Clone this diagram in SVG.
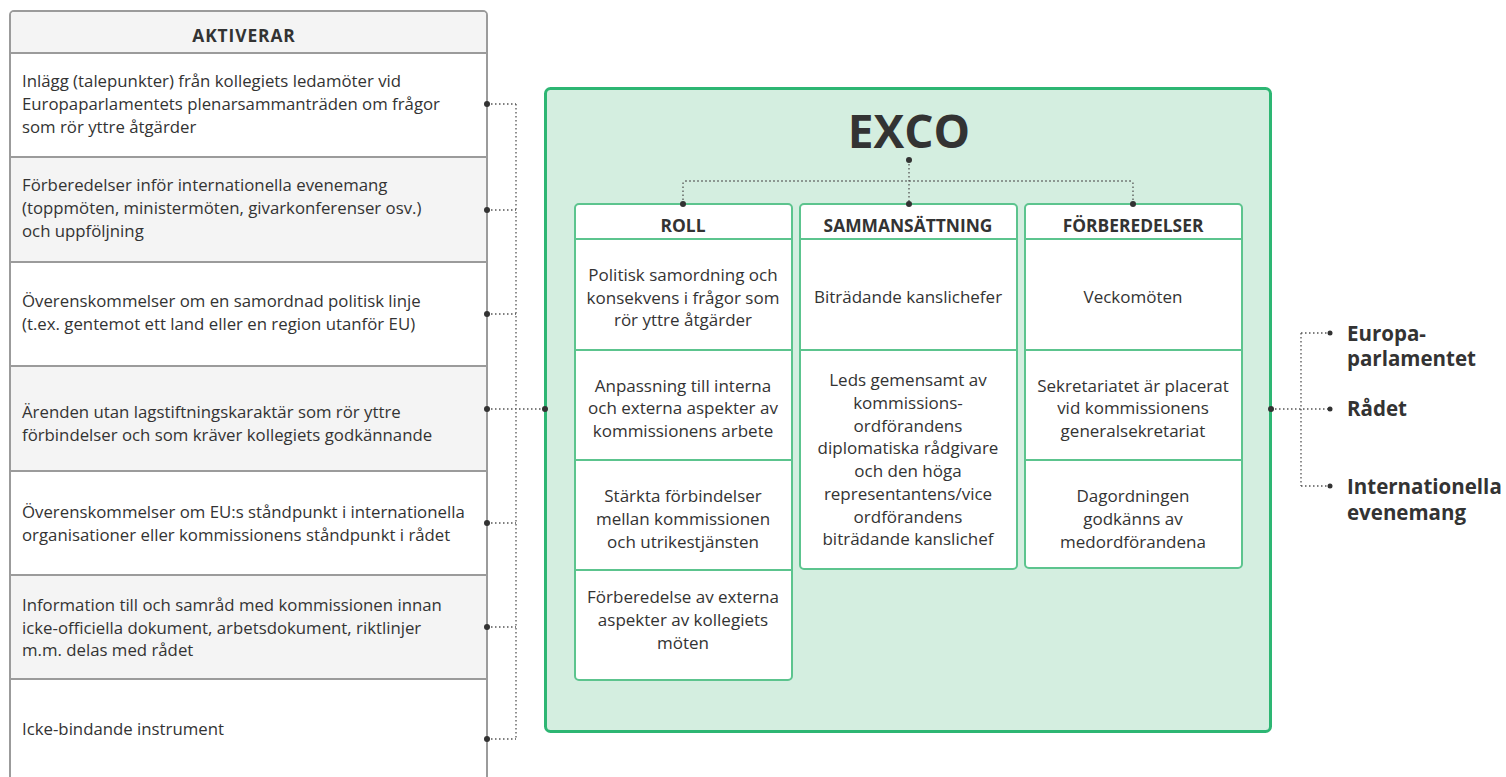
<svg xmlns="http://www.w3.org/2000/svg" width="1506" height="777" viewBox="0 0 1506 777">
<style>
.b{font-family:"Open Sans","Noto Sans",sans-serif;font-size:16.8px;fill:#333}
.c{font-family:"Open Sans","Noto Sans",sans-serif;font-size:17px;fill:#333;text-anchor:middle}
.h{font-family:"Open Sans","Noto Sans",sans-serif;font-size:17.4px;font-weight:bold;fill:#333;text-anchor:middle}
.r{font-family:"Open Sans","Noto Sans",sans-serif;font-size:20.5px;font-weight:bold;fill:#333}
.col{fill:#fff;stroke:#5cc48e;stroke-width:2}
.div{stroke:#5cc48e;stroke-width:2}
.dot{fill:none;stroke:#555;stroke-width:1.3;stroke-dasharray:1.5 2.5}
.pt{fill:#333}
</style>
<g id="aktiverar">
<rect x="10" y="11" width="477" height="790" rx="4" fill="#fff" stroke="#9b9b9b" stroke-width="2"/>
<path d="M11,53 V15 Q11,12 14,12 H483 Q486,12 486,15 V53 Z" fill="#f4f4f4"/>
<rect x="11" y="157" width="475" height="105" fill="#f4f4f4"/>
<rect x="11" y="366" width="475" height="105" fill="#f4f4f4"/>
<rect x="11" y="575" width="475" height="104" fill="#f4f4f4"/>
<g stroke="#9b9b9b" stroke-width="2">
<line x1="10" y1="53" x2="487" y2="53"/>
<line x1="10" y1="157" x2="487" y2="157"/>
<line x1="10" y1="262" x2="487" y2="262"/>
<line x1="10" y1="366" x2="487" y2="366"/>
<line x1="10" y1="471" x2="487" y2="471"/>
<line x1="10" y1="575" x2="487" y2="575"/>
<line x1="10" y1="679" x2="487" y2="679"/>
</g>
<text class="h" x="244" y="42" font-size="19.5" letter-spacing="0.9">AKTIVERAR</text>
<text class="b" x="22" y="87">Inlägg (talepunkter) från kollegiets ledamöter vid</text>
<text class="b" x="22" y="110">Europaparlamentets plenarsammanträden om frågor</text>
<text class="b" x="22" y="133">som rör yttre åtgärder</text>
<text class="b" x="22" y="191">Förberedelser inför internationella evenemang</text>
<text class="b" x="22" y="214">(toppmöten, ministermöten, givarkonferenser osv.)</text>
<text class="b" x="22" y="237">och uppföljning</text>
<text class="b" x="22" y="307">Överenskommelser om en samordnad politisk linje</text>
<text class="b" x="22" y="330">(t.ex. gentemot ett land eller en region utanför EU)</text>
<text class="b" x="22" y="418">Ärenden utan lagstiftningskaraktär som rör yttre</text>
<text class="b" x="22" y="441">förbindelser och som kräver kollegiets godkännande</text>
<text class="b" x="22" y="518">Överenskommelser om EU:s ståndpunkt i internationella</text>
<text class="b" x="22" y="541">organisationer eller kommissionens ståndpunkt i rådet</text>
<text class="b" x="22" y="611">Information till och samråd med kommissionen innan</text>
<text class="b" x="22" y="634">icke-officiella dokument, arbetsdokument, riktlinjer</text>
<text class="b" x="22" y="656">m.m. delas med rådet</text>
<text class="b" x="22" y="735">Icke-bindande instrument</text>
</g>
<g id="exco">
<rect x="545.5" y="88.5" width="725" height="643" rx="5" fill="#d4eee0" stroke="#2db673" stroke-width="3"/>
<text x="909" y="148" text-anchor="middle" font-family="'Open Sans','Noto Sans',sans-serif" font-weight="bold" font-size="46" fill="#333">EXCO</text>
</g>
<g id="roll">
<rect class="col" x="575" y="204" width="217" height="476" rx="4"/>
<line class="div" x1="575" y1="239" x2="792" y2="239"/>
<line class="div" x1="575" y1="350" x2="792" y2="350"/>
<line class="div" x1="575" y1="460" x2="792" y2="460"/>
<line class="div" x1="575" y1="570" x2="792" y2="570"/>
<text class="h" x="683" y="232">ROLL</text>
<text class="c" x="683" y="281">Politisk samordning och</text>
<text class="c" x="683" y="304">konsekvens i frågor som</text>
<text class="c" x="683" y="326">rör yttre åtgärder</text>
<text class="c" x="683" y="392">Anpassning till interna</text>
<text class="c" x="683" y="414">och externa aspekter av</text>
<text class="c" x="683" y="437">kommissionens arbete</text>
<text class="c" x="683" y="502">Stärkta förbindelser</text>
<text class="c" x="683" y="525">mellan kommissionen</text>
<text class="c" x="683" y="548">och utrikestjänsten</text>
<text class="c" x="683" y="603">Förberedelse av externa</text>
<text class="c" x="683" y="626">aspekter av kollegiets</text>
<text class="c" x="683" y="649">möten</text>
</g>
<g id="sammansattning">
<rect class="col" x="800" y="204" width="217" height="365" rx="4"/>
<line class="div" x1="800" y1="239" x2="1017" y2="239"/>
<line class="div" x1="800" y1="350" x2="1017" y2="350"/>
<text class="h" x="908" y="232">SAMMANSÄTTNING</text>
<text class="c" x="908" y="303">Biträdande kanslichefer</text>
<text class="c" x="908" y="386">Leds gemensamt av</text>
<text class="c" x="908" y="409">kommissions-</text>
<text class="c" x="908" y="432">ordförandens</text>
<text class="c" x="908" y="454">diplomatiska rådgivare</text>
<text class="c" x="908" y="477">och den höga</text>
<text class="c" x="908" y="500">representantens/vice</text>
<text class="c" x="908" y="523">ordförandens</text>
<text class="c" x="908" y="545">biträdande kanslichef</text>
</g>
<g id="forberedelser">
<rect class="col" x="1025" y="204" width="217" height="364" rx="4"/>
<line class="div" x1="1025" y1="239" x2="1242" y2="239"/>
<line class="div" x1="1025" y1="350" x2="1242" y2="350"/>
<line class="div" x1="1025" y1="460" x2="1242" y2="460"/>
<text class="h" x="1133" y="232">FÖRBEREDELSER</text>
<text class="c" x="1133" y="303">Veckomöten</text>
<text class="c" x="1133" y="392">Sekretariatet är placerat</text>
<text class="c" x="1133" y="414">vid kommissionens</text>
<text class="c" x="1133" y="437">generalsekretariat</text>
<text class="c" x="1133" y="502">Dagordningen</text>
<text class="c" x="1133" y="525">godkänns av</text>
<text class="c" x="1133" y="548">medordförandena</text>
</g>
<g id="targets">
<text class="r" x="1347" y="341">Europa-</text>
<text class="r" x="1347" y="366">parlamentet</text>
<text class="r" x="1347" y="416">Rådet</text>
<text class="r" x="1347" y="494">Internationella</text>
<text class="r" x="1347" y="520">evenemang</text>
</g>
<g id="connectors">
<path class="dot" d="M487,104 H516 M487,210 H516 M487,314 H516 M487,409 H545 M487,523 H516 M487,627 H516 M487,739 H516 M516,104 V739"/>
<path class="dot" d="M909,160 V204 M683,204 V184 Q683,181 686,181 H1130 Q1133,181 1133,184 V204"/>
<path class="dot" d="M1271,409 H1330 M1301,333 V486 M1301,333 H1330 M1301,486 H1330"/>
<g class="pt">
<circle cx="487" cy="104" r="3"/><circle cx="487" cy="210" r="3"/><circle cx="487" cy="314" r="3"/><circle cx="487" cy="409" r="3"/><circle cx="487" cy="523" r="3"/><circle cx="487" cy="627" r="3"/><circle cx="487" cy="739" r="3"/>
<circle cx="545" cy="409" r="3"/>
<circle cx="909" cy="160" r="3"/><circle cx="683" cy="204" r="3"/><circle cx="909" cy="204" r="3"/><circle cx="1133" cy="204" r="3"/>
<circle cx="1271" cy="409" r="3"/>
<circle cx="1330" cy="333" r="2.5"/><circle cx="1330" cy="409" r="2.5"/><circle cx="1330" cy="486" r="2.5"/>
</g>
</g>
</svg>
